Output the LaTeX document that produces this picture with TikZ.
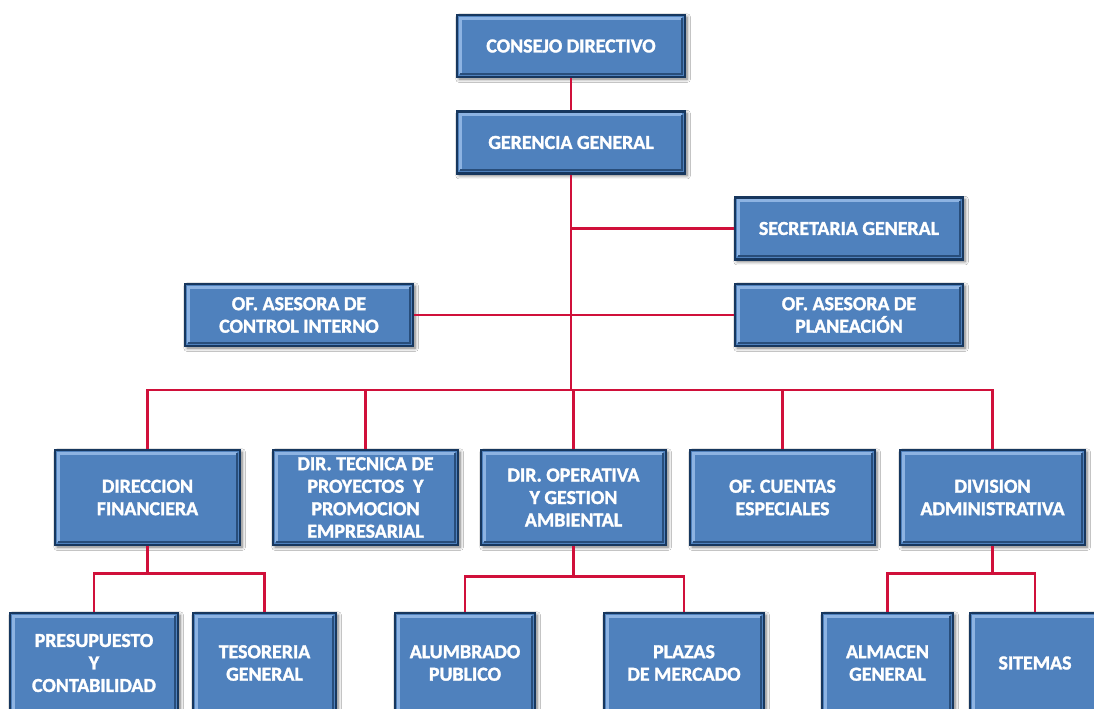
\documentclass[tikz,border=0pt]{standalone}
\usepackage{fontspec}
\setmainfont{Carlito}
\newfontfamily\boxfont{Carlito}[BoldFeatures={FakeBold=1.6}]
\usetikzlibrary{shadows.blur}
\definecolor{boxfill}{HTML}{4F81BD}
\definecolor{boxedge}{HTML}{17375E}
\definecolor{boxlight}{HTML}{8DB3E2}
\definecolor{linkred}{HTML}{D0103A}
\tikzset{
  orgbox/.style={rectangle, fill=boxfill, draw=boxedge, line width=1.6pt,
    text=white, align=center, font=\boxfont\bfseries\fontsize{11.3}{12.8}\selectfont,
    inner sep=2pt,
    blur shadow={shadow xshift=1.2pt, shadow yshift=-1.2pt, shadow blur steps=6, shadow opacity=55},
    path picture={
      \draw[boxlight, line width=1.6pt]
        ([shift={(1.8pt,1.8pt)}]path picture bounding box.south west) |-
        ([shift={(-1.8pt,-1.8pt)}]path picture bounding box.north east);
      \draw[boxedge!70!boxfill, line width=1.2pt]
        ([shift={(1.8pt,1.8pt)}]path picture bounding box.south west) -|
        ([shift={(-1.8pt,-1.8pt)}]path picture bounding box.north east);
    }},
  topbox/.style={orgbox, minimum width=4.56cm, minimum height=1.24cm},
  dirbox/.style={orgbox, minimum width=3.7cm, minimum height=1.9cm},
  lowbox/.style={orgbox, minimum height=2.0cm},
  link/.style={draw=linkred, line width=1.3pt}
}
\begin{document}
\begin{tikzpicture}[x=0.02cm, y=-0.02cm]
\useasboundingbox (0,0) rectangle (1094,709);
\clip (0,0) rectangle (1094,709);
\fill[white] (0,0) rectangle (1094,709);
% top
\node[topbox] (CD) at (571,46) {CONSEJO DIRECTIVO};
\node[topbox] (GG) at (571,142.5) {GERENCIA GENERAL};
\node[topbox] (SG) at (849,228.5) {SECRETARIA GENERAL};
\node[topbox] (CI) at (299,315) {OF. ASESORA DE\\CONTROL INTERNO};
\node[topbox] (PL) at (849,315) {OF. ASESORA DE\\PLANEACIÓN};
% directions
\node[dirbox] (DF) at (147.5,497.5) {DIRECCION\\FINANCIERA};
\node[dirbox] (DT) at (365.5,497.5) {DIR. TECNICA DE\\PROYECTOS\ \ Y\\PROMOCION\\EMPRESARIAL};
\node[dirbox] (DO) at (573.5,497.5) {DIR. OPERATIVA\\Y GESTION\\AMBIENTAL};
\node[dirbox] (OC) at (782.5,497.5) {OF. CUENTAS\\ESPECIALES};
\node[dirbox] (DA) at (992.5,497.5) {DIVISION\\ADMINISTRATIVA};
% lower
\node[lowbox, minimum width=3.36cm] (PR) at (94,663) {PRESUPUESTO\\Y\\CONTABILIDAD};
\node[lowbox, minimum width=2.86cm] (TE) at (264.5,663) {TESORERIA\\GENERAL};
\node[lowbox, minimum width=2.8cm] (AL) at (465,663) {ALUMBRADO\\PUBLICO};
\node[lowbox, minimum width=3.2cm] (PM) at (684,663) {PLAZAS\\DE MERCADO};
\node[lowbox, minimum width=2.62cm] (AG) at (887.5,663) {ALMACEN\\GENERAL};
\node[lowbox, minimum width=2.6cm] (SI) at (1035,663) {SITEMAS};
% connectors
\coordinate (bus) at (573,390);
\draw[link] (CD.south) -- (GG.north);
\draw[link] (GG.south) -- (GG.south |- bus);
\draw[link] (SG.west) -- (SG.west -| GG.south);
\draw[link] (CI.east) -- (PL.west);
\draw[link] (DF.north) |- (bus) -| (DA.north);
\draw[link] (DT.north) -- (DT.north |- bus);
\draw[link] (DO.north) -- (DO.north |- bus);
\draw[link] (OC.north) -- (OC.north |- bus);
\draw[link] (DF.south) -- ++(0,27) coordinate (f1);
\draw[link] (PR.north) |- (f1) -| (TE.north);
\draw[link] (DO.south) -- ++(0,30) coordinate (o1);
\draw[link] (AL.north) |- (o1) -| (PM.north);
\draw[link] (DA.south) -- ++(0,27) coordinate (a1);
\draw[link] (AG.north) |- (a1) -| (SI.north);
\end{tikzpicture}
\end{document}
